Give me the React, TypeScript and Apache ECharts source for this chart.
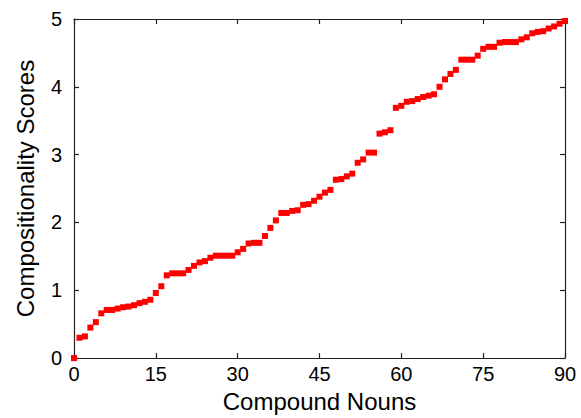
import React, { useEffect, useRef } from "react";
import * as echarts from "echarts";

const compoundIndex: number[] = Array.from({ length: 91 }, (_, i) => i);
const scores: number[] = [
  0, 0.3, 0.32, 0.45, 0.53, 0.66, 0.71, 0.71, 0.73, 0.75,
  0.76, 0.78, 0.81, 0.83, 0.86, 0.96, 1.06, 1.22, 1.25, 1.25,
  1.25, 1.3, 1.36, 1.41, 1.43, 1.48, 1.51, 1.51, 1.51, 1.51,
  1.56, 1.61, 1.69, 1.7, 1.7, 1.8, 1.92, 2.03, 2.14, 2.14,
  2.17, 2.18, 2.26, 2.27, 2.32, 2.38, 2.44, 2.48, 2.63, 2.64,
  2.68, 2.72, 2.88, 2.93, 3.03, 3.03, 3.31, 3.33, 3.36, 3.69,
  3.72, 3.78, 3.79, 3.82, 3.85, 3.87, 3.89, 4.0, 4.11, 4.19,
  4.25, 4.4, 4.4, 4.4, 4.46, 4.56, 4.59, 4.59, 4.65, 4.66,
  4.66, 4.66, 4.7, 4.73, 4.79, 4.81, 4.82, 4.86, 4.89, 4.93,
  4.97,
];

const xTitle = "Compound Nouns";
const yTitle = "Compositionality Scores";

export default function App() {
  const ref = useRef<HTMLDivElement>(null);
  useEffect(() => {
    document.body.style.margin = "0";
    if (!ref.current) return;
    const chart = echarts.init(ref.current, undefined, { renderer: "svg" });
    const font = "'Liberation Sans', Arial, Helvetica, sans-serif";
    const lineStyle = { color: "#222", width: 1.2 };
    const tick = { show: true, inside: true, length: 5, lineStyle };
    chart.setOption({
      animation: false,
      backgroundColor: "#fff",
      grid: { left: 74, right: 16, top: 19, bottom: 54, containLabel: false },
      xAxis: [
        {
          type: "value",
          min: 0,
          max: 90,
          interval: 15,
          name: xTitle,
          nameLocation: "middle",
          nameGap: 23,
          nameTextStyle: { fontFamily: font, fontSize: 24, color: "#000" },
          axisLine: { show: true, onZero: false, lineStyle },
          axisTick: tick,
          axisLabel: { fontFamily: font, fontSize: 20, color: "#000", margin: 6 },
          splitLine: { show: false },
        },
        {
          type: "value",
          position: "top",
          min: 0,
          max: 90,
          interval: 15,
          axisLine: { show: true, onZero: false, lineStyle },
          axisTick: tick,
          axisLabel: { show: false },
          splitLine: { show: false },
        },
      ],
      yAxis: [
        {
          type: "value",
          min: 0,
          max: 5,
          interval: 1,
          name: yTitle,
          nameLocation: "middle",
          nameGap: 37,
          nameTextStyle: { fontFamily: font, fontSize: 24, color: "#000" },
          axisLine: { show: true, onZero: false, lineStyle },
          axisTick: tick,
          axisLabel: { fontFamily: font, fontSize: 20, color: "#000", margin: 12 },
          splitLine: { show: false },
        },
        {
          type: "value",
          position: "right",
          min: 0,
          max: 5,
          interval: 1,
          axisLine: { show: true, onZero: false, lineStyle },
          axisTick: tick,
          axisLabel: { show: false },
          splitLine: { show: false },
        },
      ],
      series: [
        {
          type: "scatter",
          xAxisIndex: 0,
          yAxisIndex: 0,
          symbol: "rect",
          symbolSize: 6,
          clip: false,
          itemStyle: { color: "#ff0000", opacity: 1 },
          data: compoundIndex.map((x, i) => [x, scores[i]]),
        },
      ],
    });
    return () => chart.dispose();
  }, []);
  return <div ref={ref} style={{ width: 581, height: 418 }} />;
}
